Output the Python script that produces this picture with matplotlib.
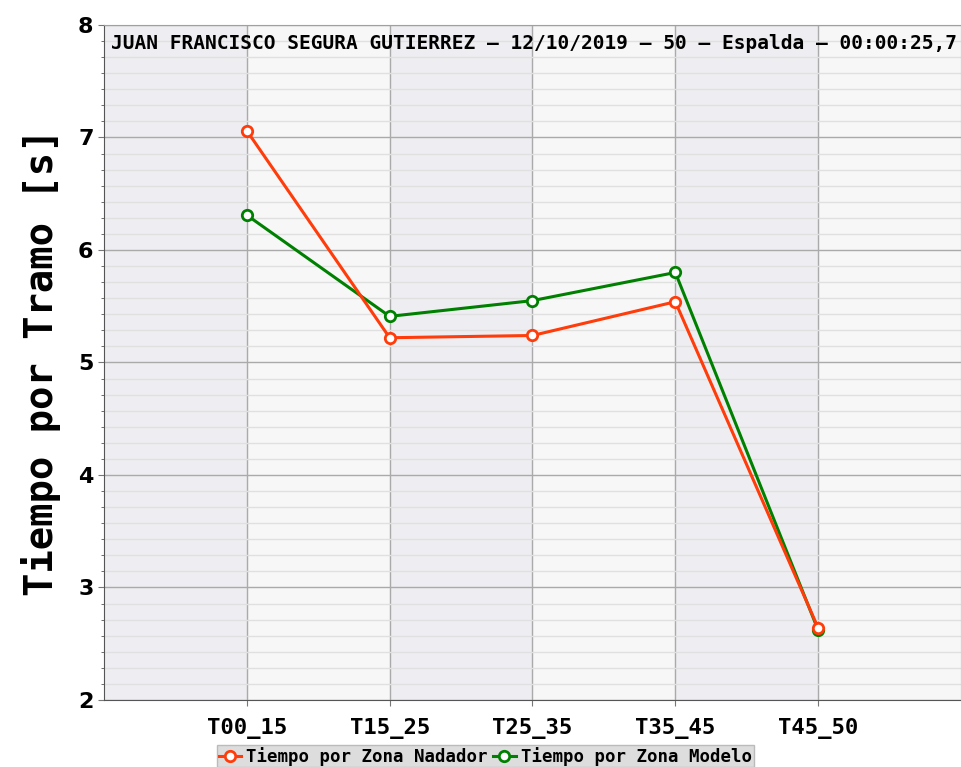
import numpy as np
import matplotlib.pyplot as plt
from matplotlib.ticker import MultipleLocator, AutoMinorLocator

tramos = ['T00_15', 'T15_25', 'T25_35', 'T35_45', 'T45_50']
nadador = [7.06, 5.22, 5.24, 5.54, 2.64]
modelo = [6.31, 5.41, 5.55, 5.80, 2.62]
titulo = 'JUAN FRANCISCO SEGURA GUTIERREZ – 12/10/2019 – 50 – Espalda – 00:00:25,7'

mono = 'DejaVu Sans Mono'

fig = plt.figure(figsize=(9.61, 7.67), dpi=100)
ax = fig.add_axes([0.1082, 0.0874, 0.8918, 0.88])

x = np.arange(len(tramos))
ax.set_xlim(-1, len(tramos))
ax.set_ylim(2, 8)
ax.set_facecolor('#f7f7f7')

# bandas alternas
for i in range(-1, len(tramos), 2):
    ax.axvspan(i, i + 1, color='#eeeef2', zorder=0)

ax.yaxis.set_major_locator(MultipleLocator(1))
ax.yaxis.set_minor_locator(AutoMinorLocator(7))
ax.set_xticks(x)
ax.set_xticklabels(tramos)
ax.grid(True, which='major', color='#aaaaaa', linewidth=1.0, zorder=1)
ax.grid(True, which='minor', axis='y', color='#e0e0e0', linewidth=1.0, zorder=1)
ax.set_axisbelow(True)

ax.plot(x, nadador, color='#ff3c0a', linewidth=2.2, marker='o', markersize=7.5,
        markerfacecolor='white', markeredgewidth=2.0, label='Tiempo por Zona Nadador', zorder=4)
ax.plot(x, modelo, color='#008000', linewidth=2.2, marker='o', markersize=7.5,
        markerfacecolor='white', markeredgewidth=2.0, label='Tiempo por Zona Modelo', zorder=3)

for s in ax.spines.values():
    s.set_color('#a0a0a0')
ax.spines['left'].set_color('#555555')
ax.spines['bottom'].set_color('#555555')

ax.tick_params(axis='both', which='major', colors='#777777', labelcolor='black', length=4)
ax.tick_params(axis='x', which='major', pad=9)
ax.tick_params(axis='y', which='minor', colors='#555555', length=2)
for lbl in ax.get_xticklabels():
    lbl.set_fontfamily(mono)
    lbl.set_fontweight('bold')
    lbl.set_fontsize(16)
for lbl in ax.get_yticklabels():
    lbl.set_fontfamily('DejaVu Sans')
    lbl.set_fontweight('bold')
    lbl.set_fontsize(16)

ax.set_ylabel('Tiempo por Tramo [s]', fontsize=28, fontweight='bold', fontfamily=mono, labelpad=12)

ax.text(0.008, 0.987, titulo, transform=ax.transAxes, ha='left', va='top',
        fontsize=14.0, fontweight='bold', fontfamily=mono, zorder=5)

leg = fig.legend(loc='upper center', bbox_to_anchor=(0.505, 1 - 745 / 767), ncol=2,
                 prop={'family': mono, 'weight': 'bold', 'size': 12.5},
                 frameon=True, fancybox=False, handlelength=1.3, handletextpad=0.3,
                 columnspacing=0.3, borderpad=0.1, borderaxespad=0)
leg.get_frame().set_facecolor('#dddddd')
leg.get_frame().set_edgecolor('#bbbbbb')
leg.get_frame().set_alpha(1)

fig.savefig('out.png', dpi=100)
